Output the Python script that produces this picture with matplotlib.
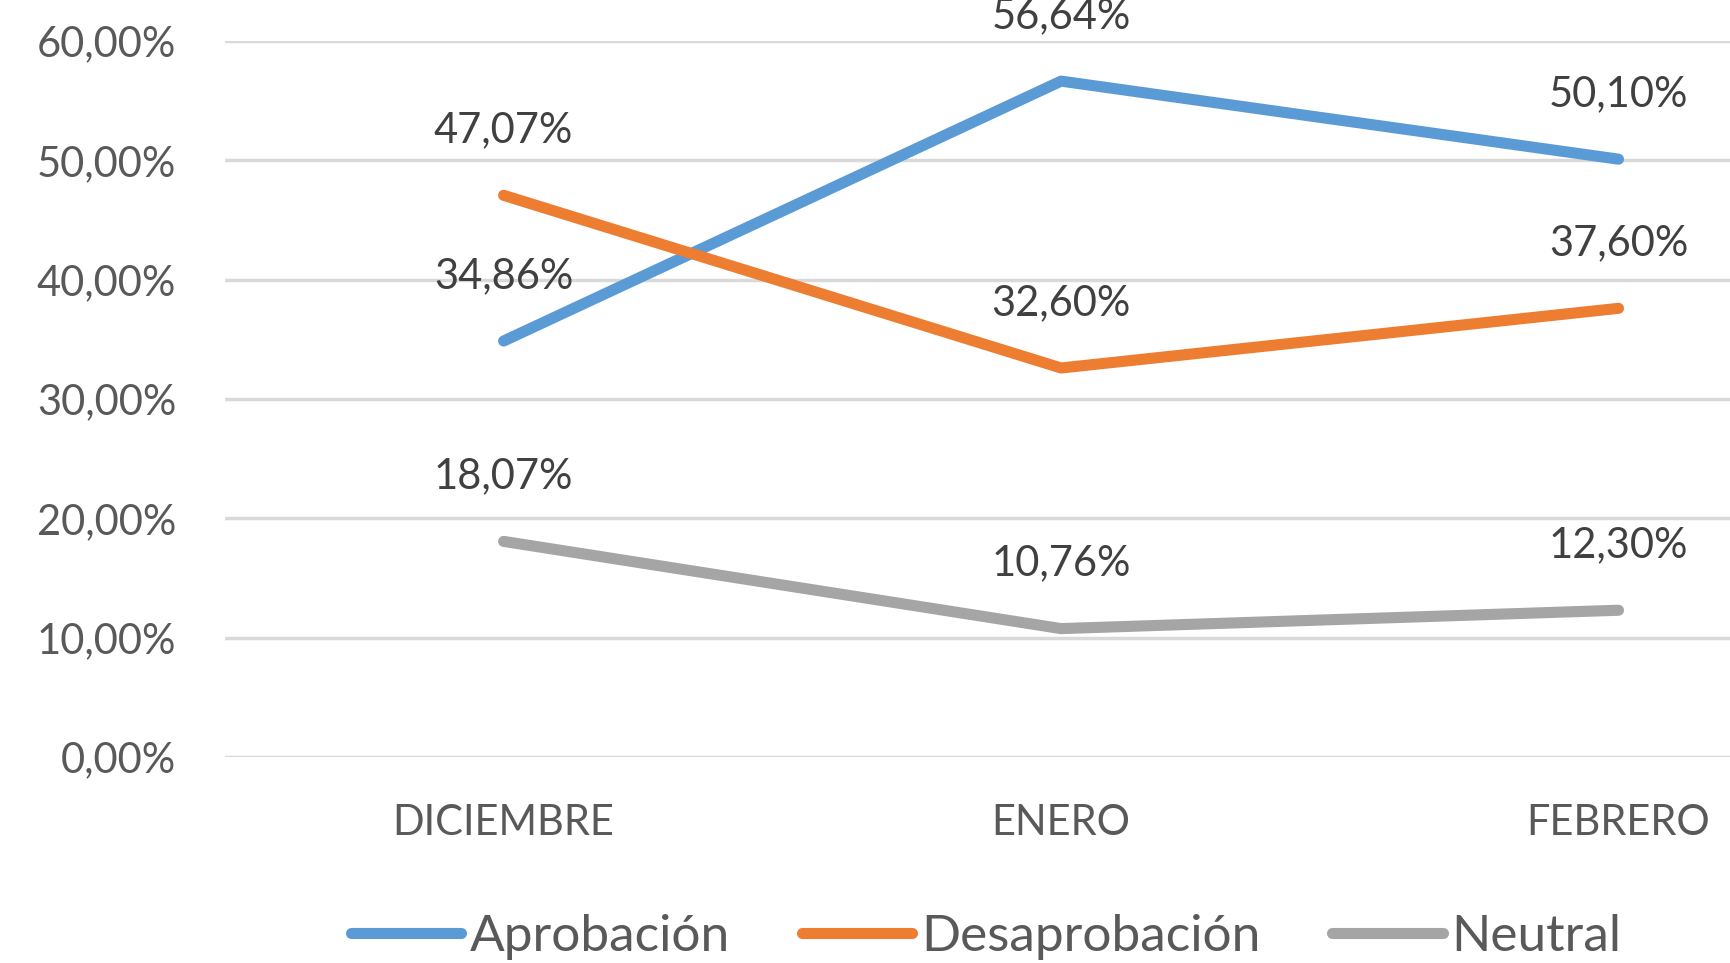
"""Aprobación / Desaprobación / Neutral, diciembre a febrero."""

import matplotlib
matplotlib.use("Agg")
import matplotlib.pyplot as plt
from matplotlib.ticker import FuncFormatter

months = ["DICIEMBRE", "ENERO", "FEBRERO"]
aprobacion = [34.86, 56.64, 50.10]
desaprobacion = [47.07, 32.60, 37.60]
neutral = [18.07, 10.76, 12.30]
y_ticks = [0, 10, 20, 30, 40, 50, 60]

series = [("Aprobación", aprobacion, "#5B9BD5"),
          ("Desaprobación", desaprobacion, "#ED7D31"),
          ("Neutral", neutral, "#A5A5A5")]

plt.rcParams["font.family"] = ["Lato", "DejaVu Sans"]

fig = plt.figure(figsize=(17.3, 9.63), dpi=100)
ax = fig.add_axes([0.130, 0.2139, 0.870, 0.7435])

x = range(len(months))
for name, vals, color in series:
    ax.plot(x, vals, color=color, lw=8, solid_capstyle="round",
            solid_joinstyle="round", label=name, zorder=3)
    for xi, v in zip(x, vals):
        ax.annotate(f"{v:.2f}%".replace(".", ","), (xi, v), xytext=(0, 47),
                    textcoords="offset points", ha="center", va="center",
                    fontsize=30, color="#404040", clip_on=False, zorder=4)

ax.set_xlim(-0.5, 2.2)
ax.set_ylim(0, 60)
ax.set_xticks(list(x))
ax.set_xticklabels(months)
ax.set_yticks(y_ticks)
ax.yaxis.set_major_formatter(FuncFormatter(lambda v, _: f"{v:.2f}%".replace(".", ",")))
ax.tick_params(axis="both", length=0, labelsize=30, labelcolor="#595959")
ax.tick_params(axis="y", pad=35)
ax.tick_params(axis="x", pad=34)
ax.grid(axis="y", color="#D9D9D9", lw=2.5, zorder=1)
for s in ax.spines.values():
    s.set_visible(False)

fig.legend(loc="center", bbox_to_anchor=(0.570, 0.027), ncol=3, frameon=False,
           fontsize=37, labelcolor="#595959", handlelength=2.15,
           handletextpad=0.17, columnspacing=1.4)

fig.savefig("out.png", dpi=100)
